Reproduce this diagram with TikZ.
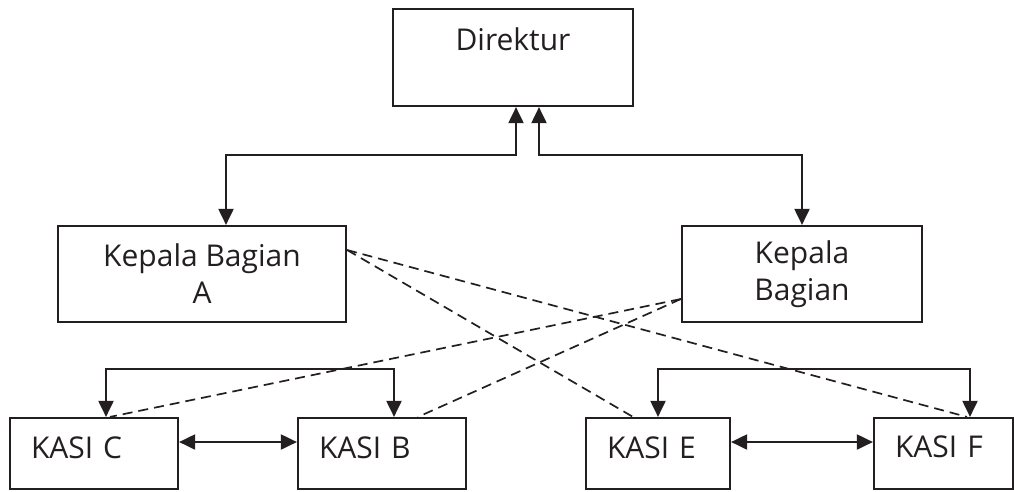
\documentclass[tikz,border=0pt]{standalone}
\usepackage{fontspec}
\setmainfont{Open Sans}
\usetikzlibrary{arrows.meta}
\definecolor{tinta}{HTML}{231F20}

\begin{document}
\begin{tikzpicture}[x=1pt, y=-1pt, tinta,
    >={Triangle[length=16pt,width=15pt]},
    kotak/.style={draw, line width=2.2pt, inner sep=0pt, align=center,
      font=\fontsize{30}{37}\selectfont},
    kasi/.style={draw, line width=2.2pt, inner xsep=21pt, inner ysep=0pt,
      minimum height=71pt, text width=#1, align=left,
      text height=22pt, text depth=12pt,
      font=\fontsize{30}{37}\selectfont},
    garis/.style={line width=2pt, <->},
    putus/.style={line width=1.7pt, dash pattern=on 10pt off 6pt}]
  \useasboundingbox (0,0) rectangle (1014,491);
  % Pimpinan
  \node[kotak, minimum width=240pt, minimum height=97pt] (dir) at (513,57.5) {Direktur\\\mbox{}};
  % Kepala bagian
  \node[kotak, minimum width=288pt, minimum height=96pt] (kba) at (202,274) {Kepala Bagian\\A};
  \node[kotak, minimum width=240pt, minimum height=96pt] (kbb) at (802,274) {Kepala\\Bagian};
  % Kepala seksi
  \node[kasi=126pt] (kc) at (94,453.5) {KASI C};
  \node[kasi=126pt] (kb) at (382,453.5) {KASI B};
  \node[kasi=102pt] (ke) at (658,453.5) {KASI E};
  \node[kasi=97pt, text depth=15pt] (kf) at (943.5,453.5) {KASI F};
  % Garis komando
  \draw[garis] ([xshift=3pt]dir.south) -- ++(0,48) -| ([xshift=24pt]kba.north);
  \draw[garis] ([xshift=26pt]dir.south) -- ++(0,48) -| (kbb.north);
  \draw[garis] ([xshift=12pt]kc.north) -- ++(0,-48) -| ([xshift=12pt]kb.north);
  \draw[garis] (ke.north) -- ++(0,-48) -| ([xshift=26.5pt]kf.north);
  \draw[garis] ([yshift=11.5pt]kc.east) -- ([yshift=11.5pt]kb.west);
  \draw[garis] ([yshift=11.5pt]ke.east) -- ([yshift=11.5pt]kf.west);
  % Garis koordinasi
  \draw[putus] ([yshift=24pt]kba.east) -- ([xshift=-25pt]ke.north);
  \draw[putus] ([yshift=24pt]kba.east) -- ([xshift=23.5pt]kf.north);
  \draw[putus] ([yshift=-25pt]kbb.west) -- ([xshift=16pt]kc.north);
  \draw[putus] ([yshift=-25pt]kbb.west) -- ([xshift=36pt]kb.north);
\end{tikzpicture}
\end{document}
